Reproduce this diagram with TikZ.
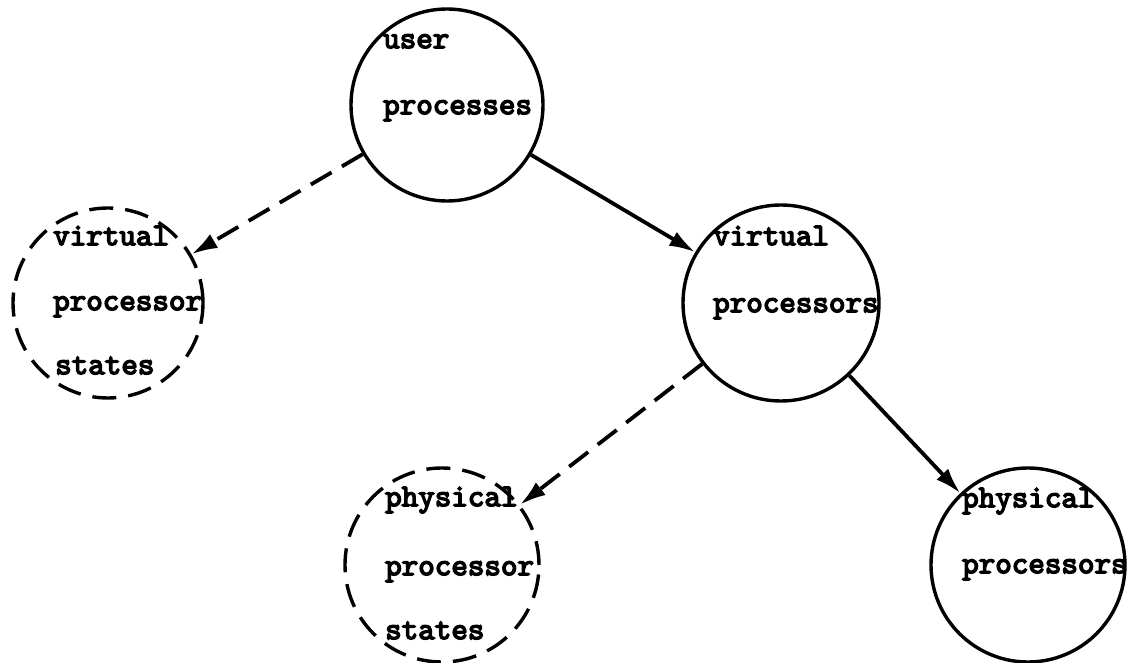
\documentclass[tikz,border=0pt]{standalone}
\usepackage{fontspec}
\newfontfamily\typew{lmmono10-regular.otf}[FakeBold=4.5]
\usetikzlibrary{arrows.meta}
\begin{document}
\begin{tikzpicture}[x=1pt,y=-1pt,
  proc/.style={circle, draw, line width=3.4pt, inner sep=0pt, minimum size=#1},
  pstate/.style={proc=#1, dash pattern=on 24pt off 12pt},
  lbl/.style={anchor=mid west, inner sep=0pt, font=\typew\fontsize{31.5}{31.5}\selectfont},
  flow/.style={line width=3.8pt, -{Latex[length=26pt,width=16pt]}},
  dflow/.style={flow, dash pattern=on 24pt off 12pt}]
\fill[white] (0,0) rectangle (1128,663);
\useasboundingbox (0,0) rectangle (1128,663);

% circles
\node[proc=192pt] (up) at (447,105) {};
\node[pstate=190pt] (vps) at (108,303) {};
\node[proc=196pt] (vp) at (781,303) {};
\node[pstate=194pt] (pps) at (442,565) {};
\node[proc=194pt] (pp) at (1028,565) {};

% labels
\node[lbl] (up1) at (383,46) {user};
\node[lbl] (up2) at (383,112) {processes};
\node[lbl] (vps1) at (53,243) {virtual};
\node[lbl] (vps2) at (53,308) {processor};
\node[lbl] (vps3) at (55,372) {states};
\node[lbl] (vp1) at (713,243) {virtual};
\node[lbl] (vp2) at (713,310) {processors};
\node[lbl] (pps1) at (385,504) {physical};
\node[lbl] (pps2) at (385,573) {processor};
\node[lbl] (pps3) at (385,637) {states};
\node[lbl] (pp1) at (962,505) {physical};
\node[lbl] (pp2) at (962,571) {processors};

% connectors
\draw[dflow] (up) -- (vps);
\draw[flow] (up) -- (vp);
\draw[dflow] (vp) -- (pps);
\draw[flow] (vp) -- (pp);
\end{tikzpicture}
\end{document}
